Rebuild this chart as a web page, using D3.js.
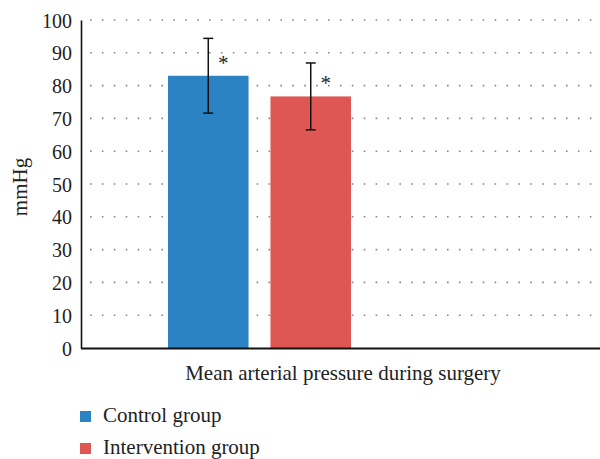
<!DOCTYPE html>
<meta charset="utf-8">
<style>
  body { margin: 0; background: #fff; }
  text { font-family: "Liberation Serif", "Times New Roman", serif; fill: #222; }
</style>
<script src="https://d3js.org/d3.v7.min.js"></script>
<div id="my_dataviz"></div>
<script>

// data
var categories = ["Mean arterial pressure during surgery"]
var groups = ["Control group", "Intervention group"]
var means = [83.0, 76.7]
var errors = [11.4, 10.2]
var yTicks = [0, 10, 20, 30, 40, 50, 60, 70, 80, 90, 100]
var colors = ["#2b83c3", "#de5753"]

var width = 600, height = 459
var plot = {left: 81, right: 605, top: 20, bottom: 348}

var svg = d3.select("#my_dataviz")
  .append("svg")
    .attr("width", width)
    .attr("height", height)

// scales
var y = d3.scaleLinear()
  .domain([0, 100])
  .range([plot.bottom, plot.top])

var x = d3.scaleBand()
  .domain(categories)
  .range([plot.left, plot.right])

// bars sit left of the category centre, like in the original
var xInner = d3.scaleBand()
  .domain(groups)
  .range([168, 351])
  .paddingInner(0.214)

// dotted gridlines
svg.append("g")
  .selectAll("line")
  .data(yTicks.filter(function(d) { return d > 0 }))
  .enter()
  .append("line")
    .attr("x1", plot.left + 9)
    .attr("x2", width)
    .attr("y1", function(d) { return y(d) })
    .attr("y2", function(d) { return y(d) })
    .attr("stroke", "#858585")
    .attr("stroke-width", 1.6)
    .attr("stroke-dasharray", "1.6,10.3")

// y axis
var yAxis = svg.append("g")
  .attr("transform", "translate(" + plot.left + ",0)")
  .call(d3.axisLeft(y).tickValues(yTicks).tickSize(0).tickPadding(9))
yAxis.attr("font-family", null)
yAxis.select(".domain").attr("stroke", "#111").attr("stroke-width", 1.6)
yAxis.selectAll("text")
  .style("font-family", "'Liberation Serif', serif")
  .style("font-size", "20px")
  .attr("fill", "#2a2a2a")
  .attr("dy", "0.35em")

// bars
svg.append("g")
  .selectAll("rect")
  .data(groups)
  .enter()
  .append("rect")
    .attr("x", function(d) { return xInner(d) })
    .attr("width", xInner.bandwidth())
    .attr("y", function(d, i) { return y(means[i]) })
    .attr("height", function(d, i) { return y(0) - y(means[i]) })
    .attr("fill", function(d, i) { return colors[i] })

// x axis line
svg.append("line")
  .attr("x1", plot.left)
  .attr("x2", width)
  .attr("y1", y(0) + 0.5)
  .attr("y2", y(0) + 0.5)
  .attr("stroke", "#111")
  .attr("stroke-width", 1.8)

// error bars
var err = svg.append("g")
  .selectAll("g")
  .data(groups)
  .enter()
  .append("g")
err.append("line")
  .attr("x1", function(d) { return xInner(d) + xInner.bandwidth() / 2 })
  .attr("x2", function(d) { return xInner(d) + xInner.bandwidth() / 2 })
  .attr("y1", function(d, i) { return y(means[i] + errors[i]) })
  .attr("y2", function(d, i) { return y(means[i] - errors[i]) })
  .attr("stroke", "#111")
  .attr("stroke-width", 1.5)
err.selectAll(".cap")
  .data(function(d, i) { return [{g: d, v: means[i] + errors[i]}, {g: d, v: means[i] - errors[i]}] })
  .enter()
  .append("line")
    .attr("class", "cap")
    .attr("x1", function(d) { return xInner(d.g) + xInner.bandwidth() / 2 - 5 })
    .attr("x2", function(d) { return xInner(d.g) + xInner.bandwidth() / 2 + 5 })
    .attr("y1", function(d) { return y(d.v) })
    .attr("y2", function(d) { return y(d.v) })
    .attr("stroke", "#111")
    .attr("stroke-width", 1.5)

// significance asterisks
svg.append("g")
  .selectAll("text")
  .data(groups)
  .enter()
  .append("text")
    .attr("x", function(d) { return xInner(d) + xInner.bandwidth() / 2 + 15 })
    .attr("y", function(d, i) { return y(means[i]) - 6 })
    .attr("text-anchor", "middle")
    .style("font-size", "21px")
    .attr("fill", "#333")
    .text("*")

// category label
svg.append("text")
  .attr("x", x(categories[0]) + x.bandwidth() / 2)
  .attr("y", 380)
  .attr("text-anchor", "middle")
  .style("font-size", "21px")
  .text(categories[0])

// y axis title
svg.append("text")
  .attr("transform", "translate(27,187) rotate(-90)")
  .attr("text-anchor", "middle")
  .style("font-size", "21px")
  .text("mmHg")

// legend
var legend = svg.append("g")
  .selectAll("g")
  .data(groups)
  .enter()
  .append("g")
    .attr("transform", function(d, i) { return "translate(80," + (411 + i * 32) + ")" })
legend.append("rect")
  .attr("width", 11)
  .attr("height", 11)
  .attr("fill", function(d, i) { return colors[i] })
legend.append("text")
  .attr("x", 23)
  .attr("y", 11)
  .style("font-size", "21px")
  .text(function(d) { return d })

</script>
